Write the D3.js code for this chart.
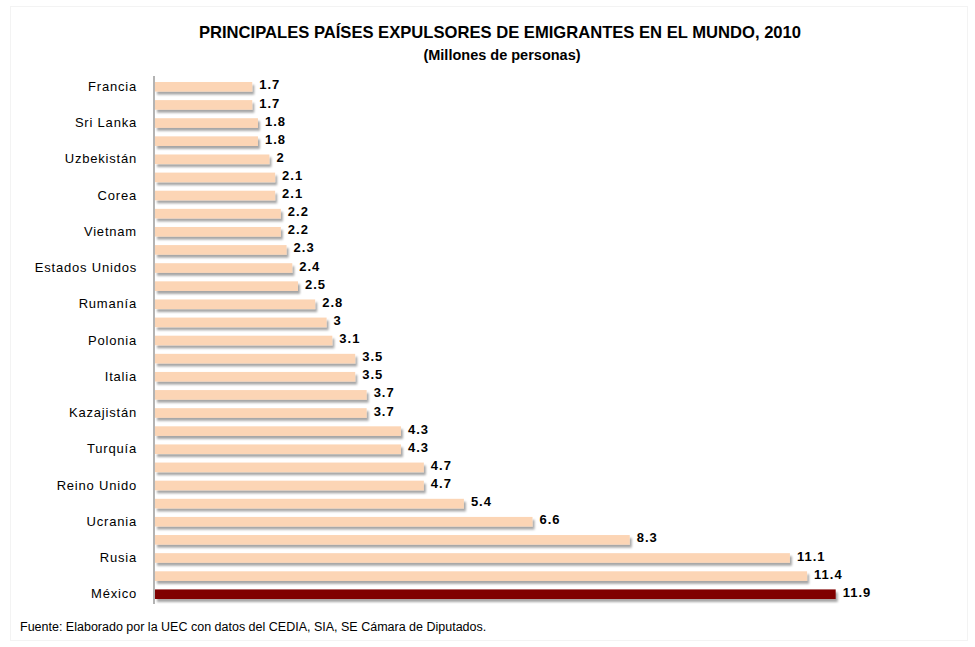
<!DOCTYPE html>
<html>
<head>
<meta charset="utf-8">
<script src="https://cdn.jsdelivr.net/npm/d3@7"></script>
<style>
  html, body { margin: 0; padding: 0; background: #fff; }
  svg { display: block; font-family: "Liberation Sans", Arial, sans-serif; }
</style>
</head>
<body>
<svg id="chart" width="975" height="647"></svg>
<script>
// Data (top to bottom as in the picture)
const countries = ["Francia", "Colombia", "Sri Lanka", "Palestina", "Uzbekistán", "Bosnia", "Corea", "Indonesia", "Vietnam", "Portugal", "Estados Unidos", "Afganistán", "Rumanía", "Marruecos", "Polonia", "Alemania", "Italia", "Egipto", "Kazajistán", "Filipinas", "Turquía", "Pakistán", "Reino Unido", "Bangladesh", "Ucrania", "China", "Rusia", "India", "México"];
const values = [1.7, 1.7, 1.8, 1.8, 2, 2.1, 2.1, 2.2, 2.2, 2.3, 2.4, 2.5, 2.8, 3, 3.1, 3.5, 3.5, 3.7, 3.7, 4.3, 4.3, 4.7, 4.7, 5.4, 6.6, 8.3, 11.1, 11.4, 11.9];
const shownLabels = ["Francia", "Sri Lanka", "Uzbekistán", "Corea", "Vietnam", "Estados Unidos", "Rumanía", "Polonia", "Italia", "Kazajistán", "Turquía", "Reino Unido", "Ucrania", "Rusia", "México"];
const highlight = "México";
const title = "PRINCIPALES PAÍSES EXPULSORES DE EMIGRANTES EN EL MUNDO, 2010";
const subtitle = "(Millones de personas)";
const source = "Fuente: Elaborado por la UEC con datos del CEDIA, SIA, SE Cámara de Diputados.";

const data = countries.map((c, i) => ({ country: c, value: values[i] }));

const svg = d3.select("#chart");

// faint outer frame
svg.append("rect").attr("x", 10.5).attr("y", 6.5).attr("width", 957).attr("height", 634)
  .attr("fill", "#fff").attr("stroke", "#f3f3f3").attr("stroke-width", 1);

const defs = svg.append("defs");
const f = defs.append("filter").attr("id", "shadow").attr("x", "-5%").attr("y", "-50%").attr("width", "115%").attr("height", "250%");
f.append("feDropShadow").attr("dx", 2).attr("dy", 3).attr("stdDeviation", 1.3)
  .attr("flood-color", "#000").attr("flood-opacity", 0.35);

const x0 = 155;
const x = d3.scaleLinear().domain([0, 14]).range([x0, x0 + 14 * 57.2]);
const y = d3.scaleBand().domain(countries).range([78, 603]).paddingInner(0.47).paddingOuter(0.22);

// bars
svg.append("g").selectAll("rect").data(data).join("rect")
  .attr("x", x(0))
  .attr("y", d => y(d.country))
  .attr("width", d => x(d.value) - x(0))
  .attr("height", y.bandwidth())
  .attr("fill", d => d.country === highlight ? "#800000" : "#FCD5B5")
  .attr("filter", "url(#shadow)");

// value labels
svg.append("g").selectAll("text").data(data).join("text")
  .attr("x", d => x(d.value) + 7)
  .attr("y", d => y(d.country) + y.bandwidth() / 2)
  .attr("dy", "0.2em")
  .attr("font-size", 13)
  .attr("font-weight", "bold")
  .attr("letter-spacing", 1)
  .attr("fill", "#000")
  .text(d => d3.format("~g")(d.value));

// category axis
const axis = d3.axisLeft(y).tickValues(shownLabels).tickSize(0).tickPadding(17);
const ag = svg.append("g").attr("transform", `translate(${x0 - 1},0)`).call(axis);
ag.select(".domain").attr("stroke", "#9a9a9a").attr("stroke-width", 1.5)
  .attr("d", "M0,76V604");
ag.selectAll("text").attr("font-size", 13).attr("letter-spacing", 0.8)
  .attr("fill", "#000").attr("font-family", "'Liberation Sans', Arial, sans-serif");

// titles
svg.append("text").attr("x", 500).attr("y", 38).attr("text-anchor", "middle")
  .attr("font-size", 16.6).attr("font-weight", "bold").text(title);
svg.append("text").attr("x", 502).attr("y", 60).attr("text-anchor", "middle")
  .attr("font-size", 14.5).attr("font-weight", "bold").text(subtitle);

// source
svg.append("text").attr("x", 20).attr("y", 631)
  .attr("font-size", 12.5).text(source);
</script>
</body>
</html>
